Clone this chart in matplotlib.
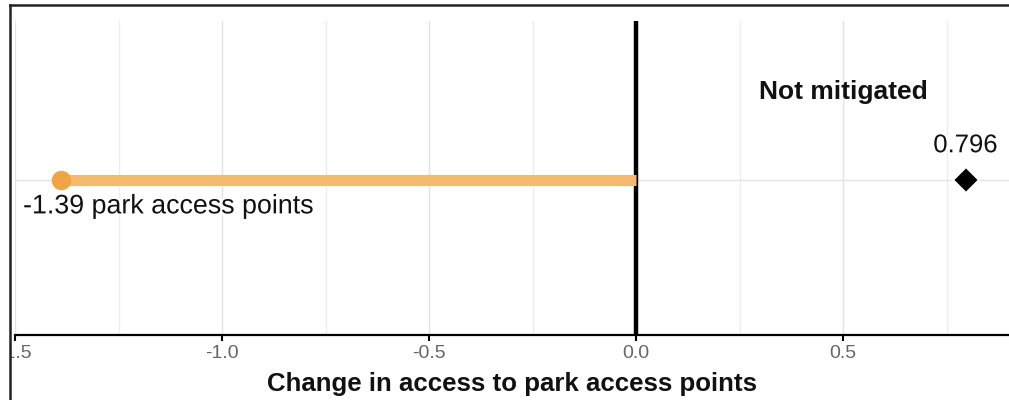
import matplotlib
matplotlib.use('Agg')
import matplotlib.pyplot as plt
import matplotlib.patheffects as pe
from matplotlib.patches import Rectangle
from matplotlib.lines import Line2D

plt.rcParams['font.family'] = ['Liberation Sans', 'DejaVu Sans']

# data
category = 'Not mitigated'
change_value = -1.39
reference_value = 0.796
change_label = '-1.39 park access points'
reference_label = '0.796'
x_label = 'Change in access to park access points'
major_ticks = [-1.5, -1.0, -0.5, 0.0, 0.5]
minor_ticks = [-1.25, -0.75, -0.25, 0.25, 0.75]

W, H = 1009, 400
fig = plt.figure(figsize=(W / 100, H / 100), dpi=100)
fig.patch.set_facecolor('white')

# axes runs past the right edge (the reference is a crop)
ax = fig.add_axes([15 / W, 65 / H, 1035 / W, 314 / H])
ax.set_xlim(-1.5, 1.0)
ax.set_ylim(-155 / 159, 1)

ax.set_xticks(major_ticks)
ax.set_xticks(minor_ticks, minor=True)
ax.set_xticklabels([f'{t:.1f}' for t in major_ticks])
ax.set_yticks([0])
ax.tick_params(axis='y', left=False, labelleft=False)
ax.tick_params(axis='x', which='major', direction='out', length=4, width=1.5,
               color='black', labelsize=14, labelcolor='#666666', pad=3)
ax.tick_params(axis='x', which='minor', length=0)
ax.grid(True, which='major', axis='both', color='#e3e3e3', lw=1)
ax.grid(True, which='minor', axis='x', color='#ededed', lw=1)
ax.set_axisbelow(True)

for s in ['top', 'right', 'left']:
    ax.spines[s].set_visible(False)
ax.spines['bottom'].set_color('black')
ax.spines['bottom'].set_linewidth(1.6)

# zero line
ax.axvline(0, color='black', lw=3.2, zorder=2)

# change bar and dot
ax.plot([change_value, 0], [0, 0], color='#F4BA6E', lw=8, solid_capstyle='butt', zorder=3)
ax.plot([change_value], [0], 'o', color='#F0A444', ms=13, zorder=4)

# reference diamond
ax.plot([reference_value], [0], 'D', color='black', ms=13, mec='white', mew=1.5, zorder=4)

halo = [pe.withStroke(linewidth=3, foreground='white')]
ax.annotate(reference_label, (reference_value, 0), xytext=(0, 25), textcoords='offset points',
            ha='center', va='center', fontsize=18.5, color='#111111', path_effects=halo)
ax.annotate(change_label, (change_value, 0), xytext=(-27, -19), textcoords='offset points',
            ha='left', va='center', fontsize=19.3, color='#111111', path_effects=halo, zorder=5)
ax.text(0.5, 0.555, category, ha='center', va='center', fontsize=19,
        fontweight='bold', color='#111111')

fig.text(512 / W, 1 - 384 / H, x_label, ha='center', va='center',
         fontsize=18.6, fontweight='bold', color='#111111')

# cropped frame: white margin then border on top/left
fig.add_artist(Rectangle((0, 0), 10 / W, 1, transform=fig.transFigure,
                         facecolor='white', edgecolor='none', zorder=20))
fig.add_artist(Rectangle((0, 1 - 5 / H), 1, 5 / H, transform=fig.transFigure,
                         facecolor='white', edgecolor='none', zorder=20))
fig.add_artist(Line2D([10 / W, 10 / W], [0, 1 - 5 / H], transform=fig.transFigure,
                      color='#222222', lw=1.8, zorder=21))
fig.add_artist(Line2D([10 / W, 1], [1 - 5 / H, 1 - 5 / H], transform=fig.transFigure,
                      color='#222222', lw=1.8, zorder=21))

fig.savefig('out.png', dpi=100)
